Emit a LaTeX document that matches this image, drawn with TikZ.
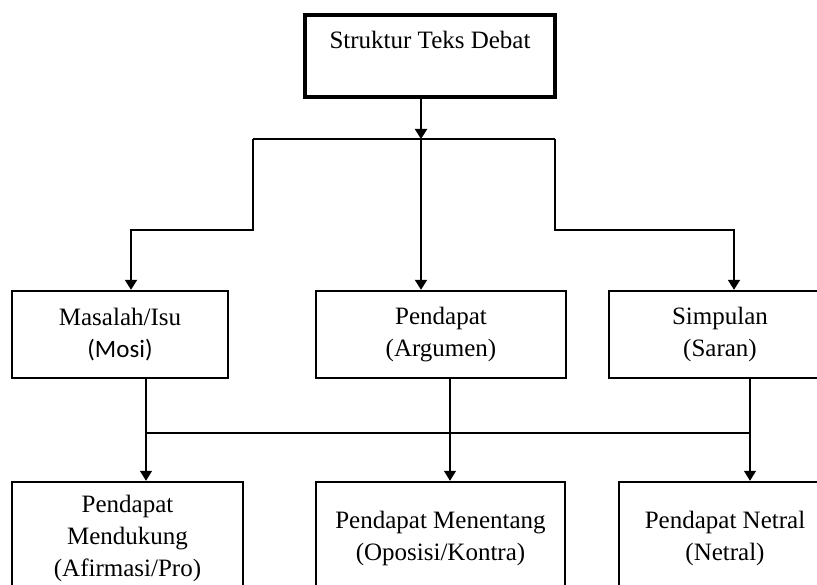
\documentclass[tikz,border=0pt]{standalone}
\usepackage{fontspec}
\setmainfont{Liberation Serif}
\newfontfamily\mosifont{Carlito}
\usetikzlibrary{arrows.meta}
\tikzset{
    box/.style={draw, line width=2.4pt, align=center, inner sep=0pt, font=\fontsize{25}{32}\selectfont},
    topbox/.style={box, line width=4.5pt},
    link/.style={line width=2pt},
    thinlink/.style={line width=1.3pt},
    tip/.style={-{Triangle[width=12pt,length=10pt]}}
}

\begin{document}
\begin{tikzpicture}[x=1pt, y=-1pt]
    \useasboundingbox (0,0) rectangle (817,585);
    \clip (0,0) rectangle (817,585);

    \node[topbox, minimum width=250pt, minimum height=82pt] (root) at (430,56) {Struktur Teks Debat\\ \mbox{}};

    \node[box, minimum width=216pt, minimum height=87pt] (mas) at (120,334.5) {Masalah/Isu\\{\mosifont (Mosi)}};
    \node[box, minimum width=250pt, minimum height=87pt] (pen) at (441,334.5) {Pendapat\\(Argumen)};
    \node[box, minimum width=222pt, minimum height=87pt] (sim) at (720,334.5) {Simpulan\\(Saran)};

    \node[box, minimum width=231pt, minimum height=112pt] (pro) at (127.5,538) {Pendapat\\Mendukung\\(Afirmasi/Pro)};
    \node[box, minimum width=249pt, minimum height=112pt] (kon) at (440.5,538) {Pendapat Menentang\\(Oposisi/Kontra)};
    \node[box, minimum width=212pt, minimum height=112pt] (net) at (725,538) {Pendapat Netral\\(Netral)};

    \coordinate (split) at (421,139);
    \coordinate (lturn) at (253,139);
    \coordinate (rturn) at (555,139);
    \coordinate (masin) at (131,230);
    \coordinate (simin) at (734,230);

    \draw[link] (lturn) -- (rturn);
    \draw[link, tip] (root.south -| split) -- (split);
    \draw[link, tip] (split) -- (pen.north -| split);
    \draw[link, tip] (lturn) |- (masin) -- (mas.north -| masin);
    \draw[link, tip] (rturn) |- (simin) -- (sim.north -| simin);

    \coordinate (jl) at (146,433);
    \coordinate (jm) at (450,433);
    \coordinate (jr) at (750,433);

    \draw[thinlink] (jl) -- (jr);
    \draw[thinlink, tip] (mas.south -| jl) -- (pro.north -| jl);
    \draw[thinlink, tip] (pen.south -| jm) -- (kon.north -| jm);
    \draw[thinlink, tip] (sim.south -| jr) -- (net.north -| jr);

\end{tikzpicture}
\end{document}
